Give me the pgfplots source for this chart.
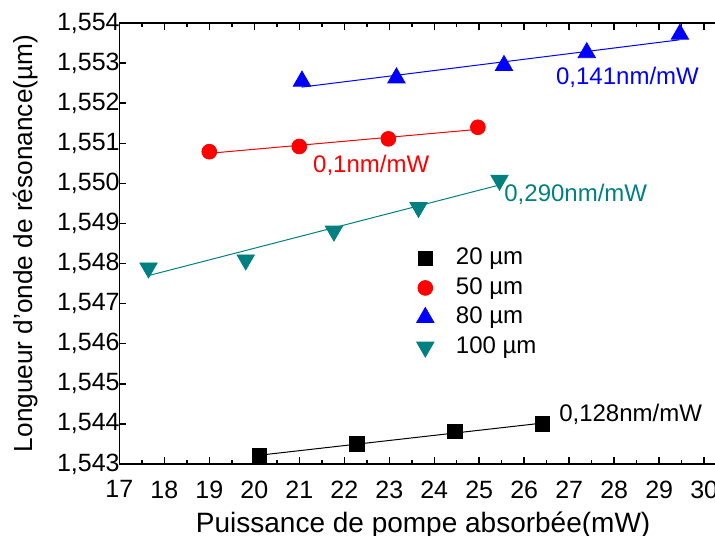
\documentclass[border=0pt]{standalone}
\usepackage{fontspec}
\setmainfont{Liberation Sans}
\usepackage{pgfplots}
\pgfplotsset{compat=1.18}
\definecolor{cteal}{RGB}{0,128,128}
\begin{document}
\fontsize{14}{16}\selectfont
\begin{tikzpicture}
\begin{axis}[
  scale only axis,
  width=297.85pt, height=220.5pt,
  xmin=17, xmax=30.24,
  ymin=1.543, ymax=1.554,
  axis x line=box,
  axis y line*=left,
  axis line style={line width=0.75pt, -},
  xtick={17,18,...,30},
  ytick={1.543,1.544,...,1.5545},
  minor x tick num=1,
  minor y tick num=1,
  tick align=inside,
  major tick length=3.5pt,
  minor tick length=2pt,
  every tick/.style={black, line width=0.75pt},
  x tick label style={font=\fontsize{12.5}{14}\selectfont, yshift=-3.5pt},
  y tick label style={font=\fontsize{12.5}{14}\selectfont, xshift=5pt, /pgf/number format/.cd, fixed, precision=3, zerofill, use comma, 1000 sep={}},
  /pgf/number format/assume math mode=true,
  scaled y ticks=false,
  xlabel={Puissance de pompe absorbée(mW)},
  ylabel={Longueur d'onde de résonance(µm)},
  xlabel style={font=\fontsize{14}{16}\selectfont, yshift=3pt, xshift=3pt},
  ylabel style={font=\fontsize{13.1}{15}\selectfont, yshift=0pt},
  clip=false,
  legend style={at={(axis cs:23.6,1.5485)}, anchor=north west, draw=none, fill=none,
    font=\fontsize{12}{14}\selectfont, row sep=0.3pt, column sep=9pt, inner sep=0pt},
  legend cell align=left,
]
% data
\addplot[only marks, mark=square*, mark size=3.6pt, black] coordinates {
  (20.12,1.54321) (22.28,1.5435) (24.46,1.54381) (26.4,1.5440)};
\addlegendentry{20 µm}
\addplot[only marks, mark=*, mark size=3.7pt, red] coordinates {
  (19.0,1.55079) (21.0,1.55092) (22.98,1.55111) (24.97,1.5514)};
\addlegendentry{50 µm}
\addplot[only marks, mark=triangle*, mark size=5pt, blue] coordinates {
  (21.06,1.55255) (23.16,1.55263) (25.55,1.55294) (27.39,1.55326) (29.46,1.55372)};
\addlegendentry{80 µm}
\addplot[only marks, mark=triangle*, mark options={rotate=180}, mark size=5pt, cteal] coordinates {
  (17.65,1.54789) (19.81,1.54809) (21.77,1.54881) (23.65,1.5494) (25.45,1.55008)};
\addlegendentry{100 µm}
% fits
\addplot[forget plot, black, line width=0.5pt] coordinates {(20.12,1.54322) (26.4,1.54402)};
\addplot[forget plot, red, line width=0.5pt] coordinates {(19.0,1.55075) (25.0,1.55135)};
\addplot[forget plot, blue, line width=0.5pt] coordinates {(21.05,1.5524) (29.45,1.55358)};
\addplot[forget plot, cteal, line width=0.5pt] coordinates {(17.65,1.5477) (25.45,1.54996)};
% annotations
\node[anchor=west, inner sep=0pt, blue, font=\fontsize{12}{14}\selectfont] at (axis cs:26.7,1.55265) {0,141nm/mW};
\node[anchor=west, inner sep=0pt, red, font=\fontsize{12}{14}\selectfont] at (axis cs:21.3,1.55046) {0,1nm/mW};
\node[anchor=west, inner sep=0pt, cteal, font=\fontsize{12}{14}\selectfont] at (axis cs:25.55,1.54973) {0,290nm/mW};
\node[anchor=west, inner sep=0pt, black, font=\fontsize{12}{14}\selectfont] at (axis cs:26.77,1.54425) {0,128nm/mW};
\end{axis}
\pgfresetboundingbox
\path (current axis.south west) ++(-59.65pt,-35.5pt) coordinate (bl);
\path (current axis.north east) ++(0pt,11.5pt) coordinate (tr);
\useasboundingbox (bl) rectangle (tr);
\end{tikzpicture}
\end{document}
